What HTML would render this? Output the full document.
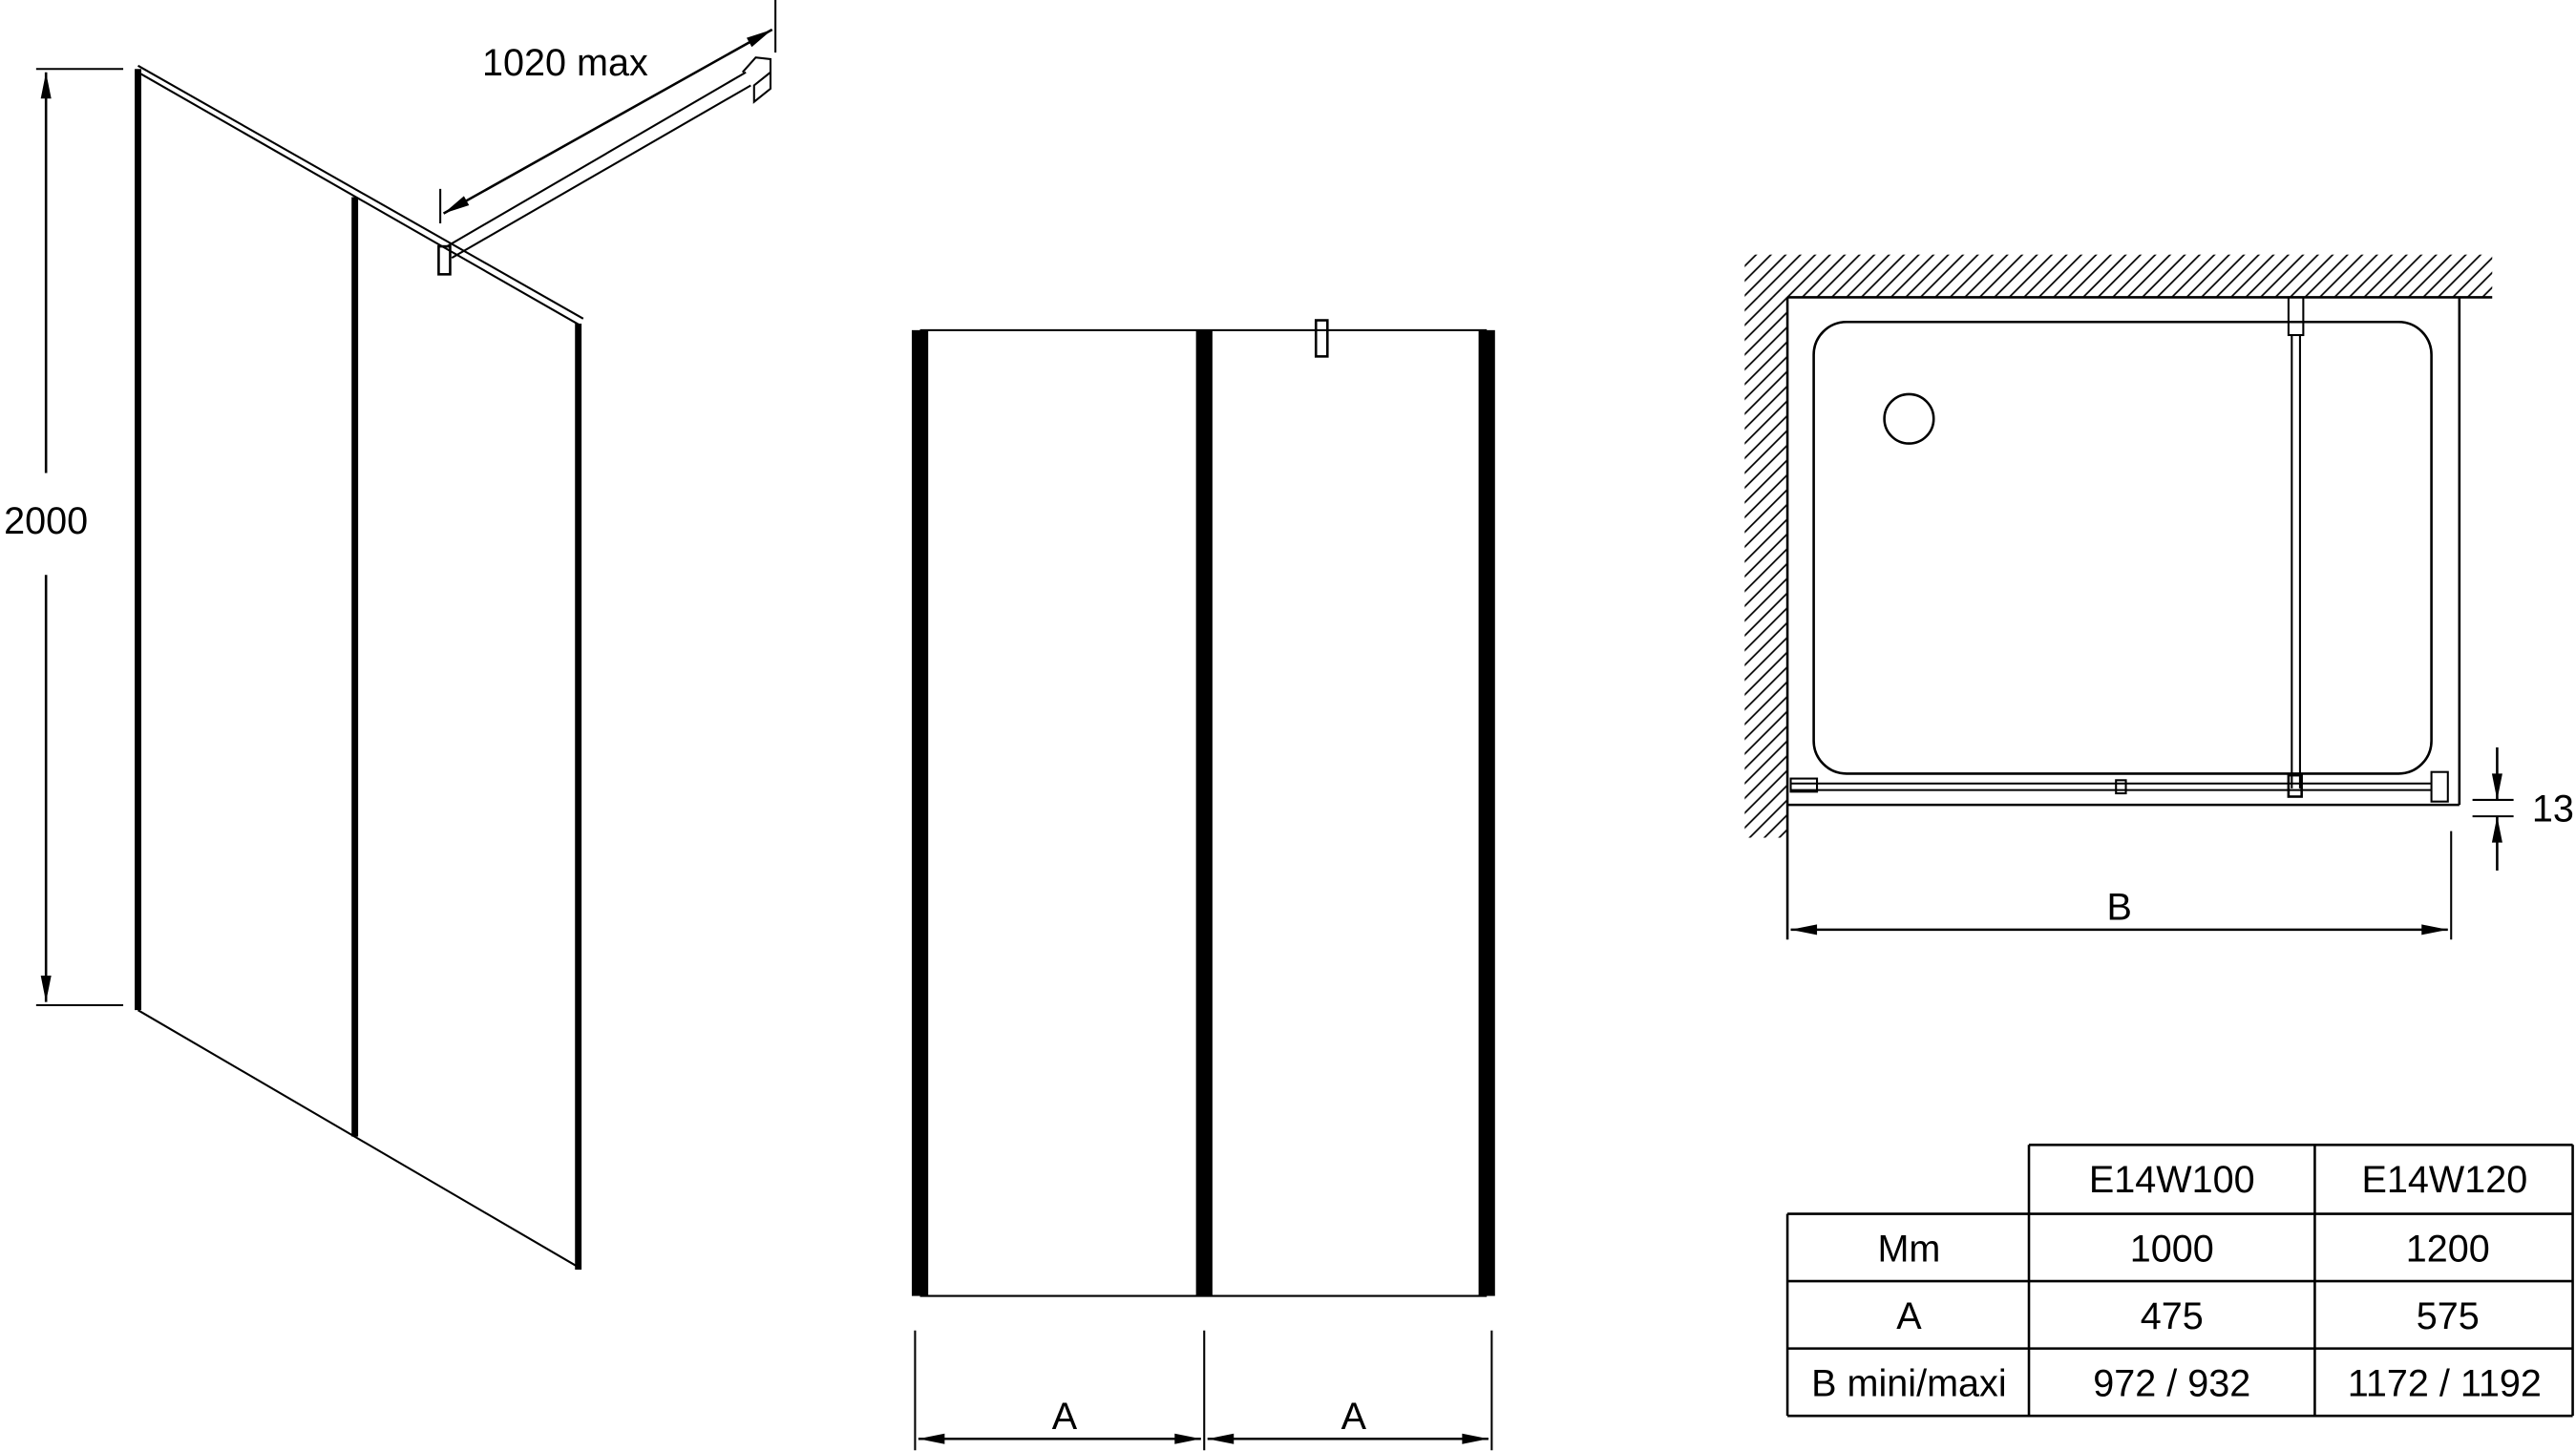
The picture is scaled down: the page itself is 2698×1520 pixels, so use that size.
<!DOCTYPE html>
<html><head><style>html,body{margin:0;padding:0;background:#fff}svg{display:block}</style></head>
<body>
<svg width="2698" height="1520" viewBox="0 0 1568 883.4" preserveAspectRatio="none" xmlns="http://www.w3.org/2000/svg" font-family="Liberation Sans, sans-serif">
<defs>
<marker id="ab" viewBox="0 0 20 10" refX="20" refY="5" markerWidth="22" markerHeight="8" markerUnits="userSpaceOnUse" orient="auto-start-reverse"><path d="M0,1 L20,5 L0,9 z" fill="#000"/></marker>
<pattern id="h" width="9" height="9" patternUnits="userSpaceOnUse"><path d="M-1,10 L10,-1 M-2,2 L2,-2 M7,11 L11,7" stroke="#000" stroke-width="1"/></pattern>
</defs>
<g stroke="#000" fill="none">
<line x1="22" y1="42" x2="75" y2="42" stroke-width="1.2"/>
<line x1="22" y1="612" x2="75" y2="612" stroke-width="1.2"/>
<line x1="28" y1="44" x2="28" y2="288" stroke-width="1.5" marker-start="url(#ab)"/>
<line x1="28" y1="350" x2="28" y2="610" stroke-width="1.5" marker-end="url(#ab)"/>
<line x1="84" y1="42" x2="84" y2="615" stroke-width="4"/>
<line x1="216" y1="120" x2="216" y2="692" stroke-width="4"/>
<line x1="352" y1="197" x2="352" y2="773" stroke-width="4"/>
<line x1="84" y1="40" x2="355" y2="194" stroke-width="1.2"/>
<line x1="84" y1="44" x2="353" y2="198" stroke-width="1.2"/>
<line x1="84" y1="615" x2="353" y2="772" stroke-width="1.2"/>
<line x1="272" y1="150" x2="454" y2="44" stroke-width="1.2"/>
<line x1="275" y1="157" x2="457" y2="52" stroke-width="1.2"/>
<path d="M452,44 L460,35 L469,36 L469,44 L459,52 L459,62 L469,54 L469,44" stroke-width="1.2"/>
<rect x="267" y="150" width="7" height="17" stroke-width="1.5"/>
<line x1="268" y1="136" x2="268" y2="115" stroke-width="1.2"/>
<line x1="472" y1="32" x2="472" y2="0" stroke-width="1.2"/>
<line x1="270" y1="130" x2="470" y2="18" stroke-width="1.5" marker-start="url(#ab)" marker-end="url(#ab)"/>
<line x1="560" y1="201" x2="905" y2="201" stroke-width="1.2"/>
<line x1="560" y1="789" x2="905" y2="789" stroke-width="1.2"/>
<rect x="555" y="201" width="10" height="588" fill="#000" stroke="none"/>
<rect x="728" y="201" width="10" height="588" fill="#000" stroke="none"/>
<rect x="900" y="201" width="10" height="588" fill="#000" stroke="none"/>
<rect x="801" y="195" width="7" height="22" stroke-width="1.5"/>
<line x1="557" y1="810" x2="557" y2="883" stroke-width="1.2"/>
<line x1="733" y1="810" x2="733" y2="883" stroke-width="1.2"/>
<line x1="908" y1="810" x2="908" y2="883" stroke-width="1.2"/>
<line x1="559" y1="876" x2="731" y2="876" stroke-width="1.5" marker-start="url(#ab)" marker-end="url(#ab)"/>
<line x1="735" y1="876" x2="906" y2="876" stroke-width="1.5" marker-start="url(#ab)" marker-end="url(#ab)"/>
<rect x="1062" y="155" width="455" height="26" fill="url(#h)" stroke="none"/>
<rect x="1062" y="181" width="26" height="329" fill="url(#h)" stroke="none"/>
<line x1="1088" y1="181" x2="1517" y2="181" stroke-width="1.5"/>
<line x1="1088" y1="181" x2="1088" y2="572" stroke-width="1.5"/>
<line x1="1497" y1="181" x2="1497" y2="490" stroke-width="1.5"/>
<line x1="1088" y1="490" x2="1497" y2="490" stroke-width="1.5"/>
<rect x="1104" y="196" width="376" height="275" rx="20" stroke-width="1.5"/>
<circle cx="1162" cy="255" r="15" stroke-width="1.5"/>
<rect x="1393" y="181" width="9" height="23" stroke-width="1.2"/>
<line x1="1395" y1="204" x2="1395" y2="480" stroke-width="1.2"/>
<line x1="1400" y1="204" x2="1400" y2="480" stroke-width="1.2"/>
<rect x="1393" y="472" width="8" height="13" stroke-width="1.5"/>
<line x1="1090" y1="477" x2="1480" y2="477" stroke-width="1.2"/>
<line x1="1090" y1="481" x2="1480" y2="481" stroke-width="1.2"/>
<rect x="1090" y="474" width="16" height="8" stroke-width="1.2"/>
<rect x="1288" y="475" width="6" height="8" stroke-width="1.2"/>
<rect x="1480" y="470" width="10" height="18" stroke-width="1.2"/>
<line x1="1492" y1="506" x2="1492" y2="572" stroke-width="1.2"/>
<line x1="1090" y1="566" x2="1490" y2="566" stroke-width="1.5" marker-start="url(#ab)" marker-end="url(#ab)"/>
<line x1="1505" y1="487" x2="1530" y2="487" stroke-width="1.2"/>
<line x1="1505" y1="497" x2="1530" y2="497" stroke-width="1.2"/>
<line x1="1520" y1="455" x2="1520" y2="487" stroke-width="1.5" marker-end="url(#ab)"/>
<line x1="1520" y1="530" x2="1520" y2="497" stroke-width="1.5" marker-end="url(#ab)"/>
<g stroke-width="1.5">
<line x1="1235" y1="697" x2="1566" y2="697"/>
<line x1="1088" y1="739" x2="1566" y2="739"/>
<line x1="1088" y1="780" x2="1566" y2="780"/>
<line x1="1088" y1="821" x2="1566" y2="821"/>
<line x1="1088" y1="862" x2="1566" y2="862"/>
<line x1="1088" y1="739" x2="1088" y2="862"/>
<line x1="1235" y1="697" x2="1235" y2="862"/>
<line x1="1409" y1="697" x2="1409" y2="862"/>
<line x1="1566" y1="697" x2="1566" y2="862"/>
</g>
</g>
<g font-size="23" fill="#000" text-anchor="middle">
<text x="28" y="325">2000</text>
<text x="344" y="46">1020 max</text>
<text x="648" y="870">A</text>
<text x="824" y="870">A</text>
<text x="1290" y="560">B</text>
<text x="1554" y="500">13</text>
<text x="1322" y="726">E14W100</text>
<text x="1488" y="726">E14W120</text>
<text x="1162" y="768">Mm</text>
<text x="1322" y="768">1000</text>
<text x="1490" y="768">1200</text>
<text x="1162" y="809">A</text>
<text x="1322" y="809">475</text>
<text x="1490" y="809">575</text>
<text x="1162" y="850">B mini/maxi</text>
<text x="1322" y="850">972 / 932</text>
<text x="1488" y="850">1172 / 1192</text>
</g>
</svg>
</body></html>
